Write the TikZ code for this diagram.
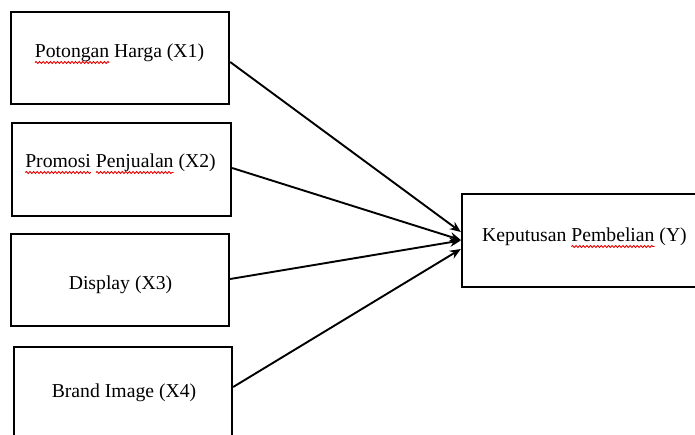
\documentclass[tikz,border=0pt]{standalone}
\usepackage{fontspec}
\setmainfont{Liberation Serif}
\usetikzlibrary{arrows.meta,decorations.pathmorphing}
\tikzset{
  box/.style={draw, line width=2.3pt, rectangle, inner sep=0pt},
  lbl/.style={anchor=base, inner sep=0pt, font=\fontsize{19.7}{23}\selectfont},
  conn/.style={line width=1.9pt, -{Stealth[length=11pt,width=9pt]}},
  squiggle/.style={draw=red!90!black, line width=0.9pt, overlay, decorate,
    decoration={snake, amplitude=1pt, segment length=3.6pt}}
}
\newcommand\sqw[1]{\tikz[baseline=(w.base)]{\node[inner sep=0pt,outer sep=0pt] (w) {#1};%
  \path[squiggle] ([yshift=-4.5pt]w.base west) -- ([yshift=-4.5pt]w.base east);}}
\begin{document}
\begin{tikzpicture}[x=1pt,y=-1pt]
\useasboundingbox (0,0) rectangle (695,435);
\clip (0,0) rectangle (695,435);
\node[box, minimum width=218pt, minimum height=92pt] (b1) at (120,58) {};
\node[box, minimum width=219pt, minimum height=93pt] (b2) at (121.5,169.5) {};
\node[box, minimum width=218pt, minimum height=92pt] (b3) at (120,280) {};
\node[box, minimum width=218pt, minimum height=93pt] (b4) at (123,393.5) {};
\node[box, minimum width=250pt, minimum height=93pt] (y) at (587,240.5) {};
\node[lbl] (t1) at (119.5,58) {\sqw{Potongan} Harga (X1)};
\node[lbl] (t2) at (120.5,168) {\sqw{Promosi} \sqw{Penjualan} (X2)};
\node[lbl] (t3) at (120.5,289) {Display (X3)};
\node[lbl] (t4) at (124,397) {Brand Image (X4)};
\node[lbl] (ty) at (584.5,242) {Keputusan \sqw{Pembelian} (Y)};
\draw[conn] ([yshift=-4pt]b1.east) -- ([yshift=8.5pt]y.west);
\draw[conn] ([yshift=1.5pt]b2.east) -- ([yshift=0.5pt]y.west);
\draw[conn] ([yshift=1pt]b3.east) -- ([yshift=0pt]y.west);
\draw[conn] ([yshift=6.5pt]b4.east) -- ([yshift=-8.5pt]y.west);
\end{tikzpicture}
\end{document}
